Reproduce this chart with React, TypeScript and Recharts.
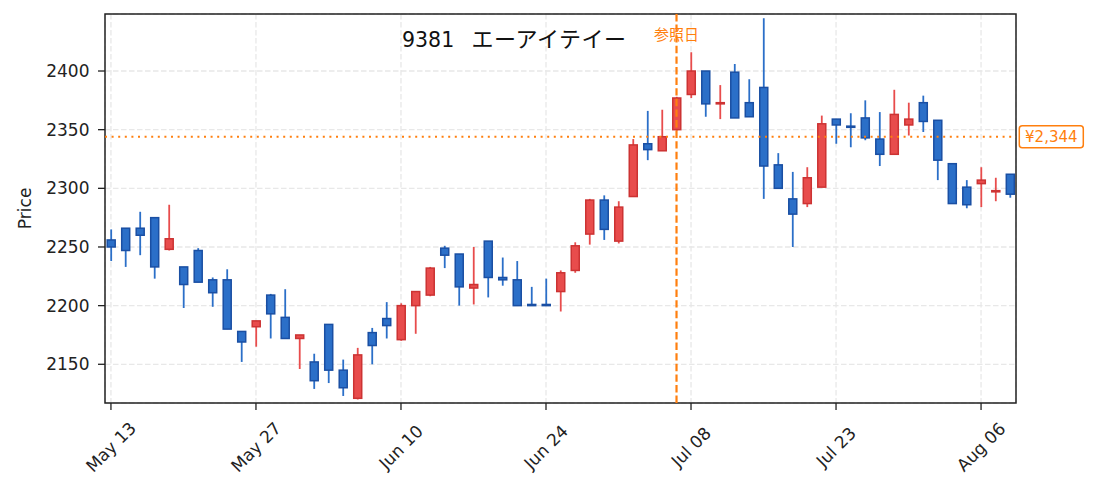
import React from "react";
import {
    ComposedChart,
    Bar,
    XAxis,
    YAxis,
    CartesianGrid,
    ReferenceLine,
    ReferenceArea
} from "recharts";

// trading days (Japan, 2024)
const dates = [
    "05-13", "05-14", "05-15", "05-16", "05-17", "05-20", "05-21", "05-22", "05-23", "05-24",
    "05-27", "05-28", "05-29", "05-30", "05-31", "06-03", "06-04", "06-05", "06-06", "06-07",
    "06-10", "06-11", "06-12", "06-13", "06-14", "06-17", "06-18", "06-19", "06-20", "06-21",
    "06-24", "06-25", "06-26", "06-27", "06-28", "07-01", "07-02", "07-03", "07-04", "07-05",
    "07-08", "07-09", "07-10", "07-11", "07-12", "07-16", "07-17", "07-18", "07-19", "07-22",
    "07-23", "07-24", "07-25", "07-26", "07-29", "07-30", "07-31", "08-01", "08-02", "08-05",
    "08-06", "08-07", "08-08"
];
const opens = [
    2256, 2266, 2266, 2275, 2248, 2233, 2247, 2222, 2222, 2178,
    2182, 2209, 2190, 2172, 2152, 2184, 2145, 2121, 2177, 2189,
    2171, 2200, 2209, 2249, 2244, 2215, 2255, 2224, 2222, 2201,
    2201, 2212, 2230, 2261, 2290, 2255, 2293, 2338, 2332, 2350,
    2380, 2400, 2372, 2399, 2373, 2386, 2320, 2291, 2287, 2301,
    2359, 2353, 2360, 2342, 2329, 2354, 2373, 2358, 2321, 2301,
    2304, 2297, 2312
];
const highs = [
    2265, 2266, 2280, 2275, 2286, 2233, 2249, 2224, 2231, 2178,
    2187, 2210, 2214, 2175, 2159, 2184, 2154, 2164, 2181, 2203,
    2202, 2212, 2233, 2251, 2244, 2250, 2255, 2241, 2238, 2216,
    2223, 2230, 2254, 2291, 2294, 2289, 2342, 2366, 2367, 2378,
    2416, 2400, 2388, 2406, 2393, 2445, 2330, 2314, 2318, 2362,
    2359, 2364, 2375, 2365, 2384, 2373, 2379, 2358, 2321, 2307,
    2318, 2309, 2312
];
const lows = [
    2238, 2233, 2243, 2223, 2247, 2198, 2220, 2199, 2180, 2152,
    2165, 2172, 2172, 2146, 2129, 2134, 2123, 2120, 2150, 2172,
    2170, 2176, 2208, 2232, 2200, 2201, 2207, 2217, 2200, 2200,
    2200, 2195, 2228, 2252, 2256, 2253, 2293, 2324, 2332, 2349,
    2377, 2361, 2359, 2360, 2361, 2291, 2300, 2250, 2284, 2301,
    2338, 2335, 2341, 2319, 2329, 2345, 2348, 2307, 2287, 2283,
    2284, 2289, 2292
];
const closes = [
    2250, 2247, 2260, 2233, 2257, 2218, 2220, 2211, 2180, 2169,
    2187, 2193, 2172, 2175, 2136, 2145, 2130, 2158, 2166, 2183,
    2200, 2212, 2232, 2243, 2216, 2218, 2224, 2222, 2200, 2200,
    2200, 2228, 2251, 2290, 2265, 2284, 2337, 2333, 2344, 2377,
    2400, 2372, 2373, 2360, 2361, 2319, 2300, 2278, 2309, 2355,
    2354, 2352, 2343, 2329, 2363, 2359, 2357, 2324, 2287, 2286,
    2307, 2298, 2295
];

const tickIdx = [0, 10, 20, 30, 40, 50, 60];
const tickLabels = ["May 13", "May 27", "Jun 10", "Jun 24", "Jul 08", "Jul 23", "Aug 06"];
const yTicks = [2150, 2200, 2250, 2300, 2350, 2400];
const refIndex = 39;
const refPrice = 2344;
const titleCode = "9381";
const titleName = "エーアイテイー";

const data = dates.map((d, i) => ({
    i,
    date: d,
    open: opens[i],
    high: highs[i],
    low: lows[i],
    close: closes[i],
    range: [lows[i], highs[i]]
}));

const FONT = "'DejaVu Sans', 'Noto Sans CJK JP', sans-serif";
const UP = "#e84c4c";
const UP_EDGE = "#cc3333";
const DOWN = "#2b6fc8";
const DOWN_EDGE = "#1a4fa3";
const ORANGE = "#ff7f0e";
const X_DOMAIN = [-0.41, 62.41];
const Y_DOMAIN = [2117, 2448.6];

function Candle(props: any) {
    const { x, y, width, height, payload } = props;
    if (!payload || height == null) return null;
    const { open, close, high, low } = payload;
    const up = close > open;
    const ppu = height / (high - low || 1);
    const top = y + (high - Math.max(open, close)) * ppu;
    const h = Math.max(Math.abs(open - close) * ppu, 1);
    const cx = x + width / 2;
    return (
        <g>
            <line x1={cx} x2={cx} y1={y} y2={y + height} stroke={up ? UP : DOWN} strokeWidth={1.8} />
            <rect
                x={cx - 4}
                y={top}
                width={8}
                height={h}
                fill={up ? UP : DOWN}
                stroke={up ? UP_EDGE : DOWN_EDGE}
                strokeWidth={1.5}
            />
        </g>
    );
}

function XTick(props: any) {
    const { x, payload } = props;
    const label = tickLabels[tickIdx.indexOf(payload.value)];
    const cy = 439;
    return (
        <text
            x={x}
            y={cy}
            transform={`rotate(-45 ${x} ${cy})`}
            textAnchor="middle"
            dominantBaseline="central"
            fontSize={17}
            fill="#222"
            fontFamily={FONT}
        >
            {label}
        </text>
    );
}

function PriceLabel(props: any) {
    const { x, y, width } = props.viewBox;
    const bx = x + width + 3.3;
    return (
        <g>
            <rect x={bx} y={y - 11} width={64} height={22} rx={3} fill="#fff" stroke={ORANGE} strokeWidth={1.5} />
            <text x={bx + 32} y={y} textAnchor="middle" dominantBaseline="central" fontSize={15} fill={ORANGE} fontFamily={FONT}>
                {"¥" + refPrice.toLocaleString("en-US")}
            </text>
        </g>
    );
}

function RefDateLabel(props: any) {
    const { x, y } = props.viewBox;
    return (
        <text x={x} y={y + 21} textAnchor="middle" dominantBaseline="central" fontSize={15} fill={ORANGE} fontFamily={FONT}>
            参照日
        </text>
    );
}

function YLabel() {
    return (
        <text
            x={17}
            y={200.4}
            transform="rotate(-90 17 200.4)"
            textAnchor="middle"
            dominantBaseline="central"
            fontSize={17}
            fill="#222"
            fontFamily={FONT}
        >
            Price
        </text>
    );
}

export default function App() {
    return (
        <div style={{ position: "relative", width: 1087, height: 484 }}>
            <ComposedChart
                width={1087}
                height={484}
                data={data}
                margin={{ top: 6, right: 79, bottom: 0, left: 0 }}
            >
                <CartesianGrid stroke="#e8e8e8" strokeDasharray="5.5 2.5" strokeWidth={1.3} />
                <XAxis
                    dataKey="i"
                    type="number"
                    domain={X_DOMAIN}
                    allowDataOverflow
                    ticks={tickIdx}
                    interval={0}
                    height={89}
                    axisLine={false}
                    tickLine={{ stroke: "#222", strokeWidth: 1.3 }}
                    tickSize={7}
                    tick={<XTick />}
                />
                <YAxis
                    type="number"
                    domain={Y_DOMAIN}
                    allowDataOverflow
                    ticks={yTicks}
                    width={97}
                    axisLine={false}
                    tickLine={{ stroke: "#222", strokeWidth: 1.3 }}
                    tickSize={7}
                    tickMargin={8.5}
                    tick={{ fontSize: 17, fill: "#222", fontFamily: FONT }}
                    label={<YLabel />}
                />
                <Bar dataKey="range" barSize={9} isAnimationActive={false} shape={(p: any) => <Candle {...p} />} />
                <ReferenceLine
                    y={refPrice}
                    stroke={ORANGE}
                    strokeWidth={2}
                    strokeDasharray="2 4.6"
                    label={<PriceLabel />}
                />
                <ReferenceLine
                    x={refIndex}
                    stroke={ORANGE}
                    strokeWidth={2.2}
                    strokeDasharray="7.4 3.2"
                    label={<RefDateLabel />}
                />
                <ReferenceArea
                    x1={X_DOMAIN[0]}
                    x2={X_DOMAIN[1]}
                    y1={Y_DOMAIN[0]}
                    y2={Y_DOMAIN[1]}
                    fill="none"
                    fillOpacity={0}
                    stroke="#222"
                    strokeWidth={1.5}
                />
            </ComposedChart>
            <svg
                width={1087}
                height={484}
                style={{ position: "absolute", left: 0, top: 0, pointerEvents: "none" }}
            >
                <text x={394} y={38.7} fontSize={20.5} fill="#111" fontFamily={FONT}>
                    <tspan>{titleCode}</tspan>
                    <tspan x={463.5} fontSize={22} letterSpacing={0.5}>{titleName}</tspan>
                </text>
            </svg>
        </div>
    );
}
